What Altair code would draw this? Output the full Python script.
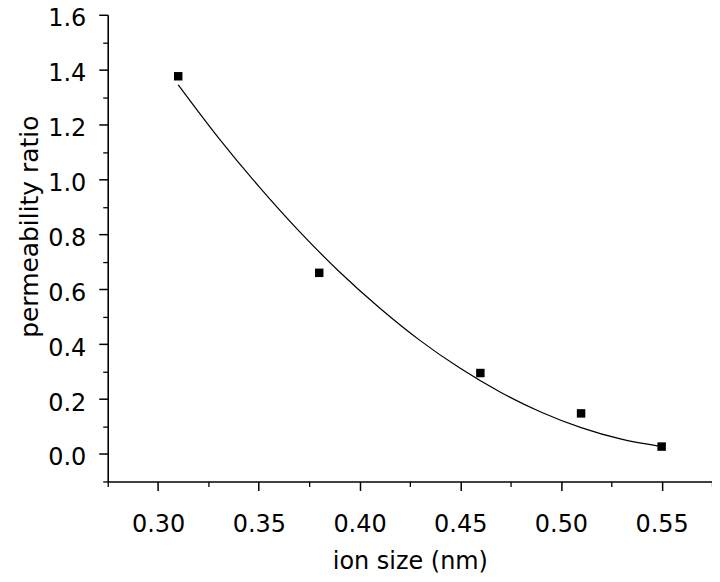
import altair as alt
import pandas as pd

# measured points
ion_size = [0.31, 0.38, 0.46, 0.51, 0.55]
perm_ratio = [1.376, 0.660, 0.295, 0.148, 0.027]

# fitted curve
fit_x = [0.31, 0.33, 0.35, 0.37, 0.39, 0.41, 0.43, 0.45, 0.47, 0.49, 0.51, 0.53, 0.55]
fit_y = [1.345, 1.152, 0.975, 0.812, 0.664, 0.532, 0.414, 0.312, 0.225, 0.153, 0.096, 0.054, 0.027]

x_major = [0.30, 0.35, 0.40, 0.45, 0.50, 0.55]
x_minor = [0.275, 0.325, 0.375, 0.425, 0.475, 0.525, 0.575]
y_major = [0.0, 0.2, 0.4, 0.6, 0.8, 1.0, 1.2, 1.4, 1.6]
y_minor = [-0.1, 0.1, 0.3, 0.5, 0.7, 0.9, 1.1, 1.3, 1.5]

pts = pd.DataFrame({"x": ion_size, "y": perm_ratio})
fit = pd.DataFrame({"x": fit_x, "y": fit_y})

FONT = "DejaVu Sans"
xs = alt.Scale(domain=[0.275, 0.575], nice=False, zero=False)
ys = alt.Scale(domain=[-0.1, 1.6], nice=False, zero=False)

x_axis_major = alt.Axis(
    orient="bottom", values=x_major, format=".2f", tickSize=9, tickWidth=1.5,
    domainWidth=1.6, domainColor="black", tickColor="black", grid=False,
    labelFont=FONT, labelFontSize=24, labelColor="black", labelBaseline="alphabetic",
    labelPadding=41, labelFlush=False,
    title="ion size (nm)", titleFont=FONT, titleFontSize=24, titleFontWeight="normal",
    titleColor="black", titleBaseline="alphabetic", titleX=303, titleY=87,
    titleAnchor="middle", titleAlign="center",
)
y_axis_major = alt.Axis(
    orient="left", values=y_major, format=".1f", tickSize=9, tickWidth=1.5,
    domainWidth=1.6, domainColor="black", tickColor="black", grid=False,
    labelFont=FONT, labelFontSize=24, labelColor="black", labelPadding=13,
    labelOffset=4, labelFlush=False,
    title="permeability ratio", titleFont=FONT, titleFontSize=25, titleFontWeight="normal",
    titleColor="black", titleBaseline="alphabetic", titleAngle=270,
    titleX=-70, titleY=212, titleAlign="center",
)
x_axis_minor = alt.Axis(
    orient="bottom", values=x_minor, tickSize=5, tickWidth=1.3, labels=False,
    domain=False, grid=False, tickColor="black", title=None,
)
y_axis_minor = alt.Axis(
    orient="left", values=y_minor, tickSize=5, tickWidth=1.3, labels=False,
    domain=False, grid=False, tickColor="black", title=None,
)

line = alt.Chart(fit).mark_line(color="black", strokeWidth=1.2, interpolate="monotone").encode(
    x=alt.X("x:Q", scale=xs, axis=x_axis_major),
    y=alt.Y("y:Q", scale=ys, axis=y_axis_major),
)
points = alt.Chart(pts).mark_square(color="black", size=72, opacity=1).encode(
    x=alt.X("x:Q", scale=xs, axis=x_axis_minor),
    y=alt.Y("y:Q", scale=ys, axis=y_axis_minor),
)

chart = (
    alt.layer(line, points)
    .resolve_axis(x="independent", y="independent")
    .properties(
        width=606, height=468,
        autosize=alt.AutoSizeParams(type="none"),
        padding={"left": 100, "top": 6, "right": 0, "bottom": 92},
        background="white",
    )
    .configure_view(stroke=None)
)

chart.save("out.html", embed_options={"renderer": "svg", "actions": False})
